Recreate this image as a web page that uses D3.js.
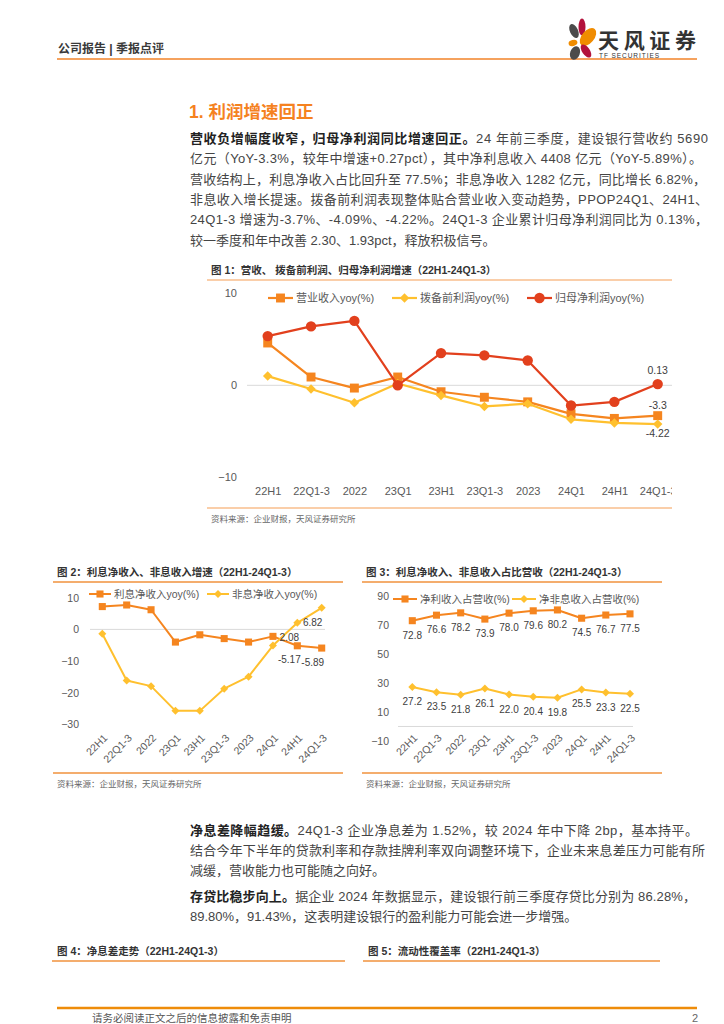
<!DOCTYPE html>
<html>
<head>
<meta charset="utf-8">
<script src="https://cdn.jsdelivr.net/npm/d3@7"></script>
<style>
  body { margin: 0; background: #fff; }
  svg { display: block; }
  text { font-family: "Liberation Sans", "Noto Sans CJK SC", sans-serif; }
</style>
</head>
<body>
<svg id="page" width="724" height="1024"></svg>
<script>
// ---- data ----
const periods = ["22H1", "22Q1-3", "2022", "23Q1", "23H1", "23Q1-3", "2023", "24Q1", "24H1", "24Q1-3"];

// fig 1: growth rates (%)
const revenueYoy   = [4.6, 0.9, -0.3, 0.9, -0.7, -1.3, -1.8, -3.1, -3.6, -3.3];
const ppopYoy      = [1.0, -0.4, -1.9, 0.2, -1.1, -2.3, -2.0, -3.7, -4.09, -4.22];
const netProfitYoy = [5.35, 6.4, 7.0, 0.0, 3.5, 3.25, 2.7, -2.2, -1.8, 0.13];
const ticks1 = [-10, 0, 10];

// fig 2: interest / non-interest income growth (%)
const netInterestYoy = [7.2, 7.7, 6.2, -4.0, -1.7, -2.9, -4.0, -2.2, -5.17, -5.89];
const nonInterestYoy = [-1.4, -16.1, -17.9, -25.7, -25.7, -18.7, -14.9, -5.1, 2.08, 6.82];
const ticks2 = [-30, -20, -10, 0, 10];

// fig 3: share of revenue (%)
const interestShare    = [72.8, 76.6, 78.2, 73.9, 78.0, 79.6, 80.2, 74.5, 76.7, 77.5];
const nonInterestShare = [27.2, 23.5, 21.8, 26.1, 22.0, 20.4, 19.8, 25.5, 23.3, 22.5];
const ticks3 = [-10, 10, 30, 50, 70, 90];

const ORANGE = "#F5851F", YELLOW = "#FFC02E", RED = "#E2401D";
const svg = d3.select("#page");

// ---- page furniture ----
svg.append("text").attr("x", 58).attr("y", 53).attr("font-size", 12).attr("font-weight", 700)
  .attr("fill", "#3a3a3a").text("公司报告 | 季报点评");
svg.append("line").attr("x1", 57).attr("x2", 697).attr("y1", 59).attr("y2", 59)
  .attr("stroke", "#F5A25E").attr("stroke-width", 2);

// logo petals
const petals = [
  [574, 31, 4, 7.5, -25, "#4b4b4b"],
  [582, 27, 3.5, 8.5, 0, "#B3123C"],
  [588, 37, 6.2, 10.5, 40, "#F08C00"],
  [573, 43, 4.5, 3, -15, "#F08C00"],
  [586, 51, 3.8, 7.5, -35, "#B3123C"],
  [575, 53, 4.8, 7, 20, "#4b4b4b"]
];
svg.append("g").selectAll("ellipse").data(petals).enter().append("ellipse")
  .attr("transform", d => `translate(${d[0]},${d[1]}) rotate(${d[4]})`)
  .attr("rx", d => d[2]).attr("ry", d => d[3]).attr("fill", d => d[5]);
svg.append("text").attr("x", 598).attr("y", 48).attr("font-size", 21).attr("font-weight", 700)
  .attr("textLength", 98).attr("lengthAdjust", "spacing")
  .attr("fill", "#333").text("天风证券");
svg.append("text").attr("x", 599).attr("y", 57.5).attr("font-size", 6.5)
  .attr("textLength", 60).attr("lengthAdjust", "spacing")
  .attr("fill", "#333").text("TF SECURITIES");

svg.append("text").attr("x", 189).attr("y", 118).attr("font-size", 17.5).attr("font-weight", 700)
  .attr("fill", "#F5821F").text("1. 利润增速回正");

function para(lines, x, y0, lh) {
  lines.forEach((ln, i) => {
    const t = svg.append("text").attr("x", x).attr("y", y0 + i * lh).attr("font-size", 13).attr("fill", "#454545");
    if (ln[2]) t.attr("textLength", ln[2]).attr("lengthAdjust", "spacing");
    if (ln[0]) t.append("tspan").attr("font-weight", 700).attr("fill", "#222").text(ln[0]);
    t.append("tspan").text(ln[1]);
  });
}

para([
  ["营收负增幅度收窄，归母净利润同比增速回正。", "24 年前三季度，建设银行营收约 5690", 518],
  ["", "亿元（YoY-3.3%，较年中增速+0.27pct），其中净利息收入 4408 亿元（YoY-5.89%）。", 512],
  ["", "营收结构上，利息净收入占比回升至 77.5%；非息净收入 1282 亿元，同比增长 6.82%，", 516],
  ["", "非息收入增长提速。拨备前利润表现整体贴合营业收入变动趋势，PPOP24Q1、24H1、", 518],
  ["", "24Q1-3 增速为-3.7%、-4.09%、-4.22%。24Q1-3 企业累计归母净利润同比为 0.13%，", 518],
  ["", "较一季度和年中改善 2.30、1.93pct，释放积极信号。", 0]
], 190, 143, 20.3);

para([
  ["净息差降幅趋缓。", "24Q1-3 企业净息差为 1.52%，较 2024 年中下降 2bp，基本持平。", 508],
  ["", "结合今年下半年的贷款利率和存款挂牌利率双向调整环境下，企业未来息差压力可能有所", 515],
  ["", "减缓，营收能力也可能随之向好。", 0]
], 190, 835, 20.2);
para([
  ["存贷比稳步向上。", "据企业 2024 年数据显示，建设银行前三季度存贷比分别为 86.28%，", 506],
  ["", "89.80%，91.43%，这表明建设银行的盈利能力可能会进一步增强。", 0]
], 190, 901, 20.2);

// ---- chart helper ----
let clipId = 0;
function drawChart(o) {
  const g = svg.append("g");
  const x = d3.scalePoint().domain(periods).range(o.xRange);
  const y = d3.scaleLinear().domain(o.yDomain).range(o.yRange);

  const id = "clip" + (clipId++);
  svg.append("clipPath").attr("id", id).append("rect")
    .attr("x", o.left).attr("y", o.topLine).attr("width", o.right - o.left).attr("height", o.bottomLine - o.topLine);
  const plot = g.append("g").attr("clip-path", `url(#${id})`);

  g.append("text").attr("x", o.left + 4).attr("y", o.titleY).attr("font-size", 10.5)
    .attr("font-weight", 700).attr("fill", "#333").text(o.title);
  [o.topLine, o.bottomLine].forEach(yy => {
    g.append("line").attr("x1", o.left).attr("x2", o.right).attr("y1", yy).attr("y2", yy)
      .attr("stroke", o.ruleColor).attr("stroke-width", 1.5);
  });
  g.append("text").attr("x", o.left + 4).attr("y", o.bottomLine + 14).attr("font-size", 8.5)
    .attr("fill", "#666").text("资料来源：企业财报，天风证券研究所");

  const ya = plot.append("g").attr("transform", `translate(${o.axisX},0)`)
    .call(d3.axisLeft(y).tickValues(o.ticks).tickSize(0).tickPadding(o.tickPad));
  ya.select(".domain").remove();
  ya.selectAll("text").attr("font-size", o.tickFont).attr("fill", "#595959");

  plot.append("line").attr("x1", o.axisX).attr("x2", o.gridEnd).attr("y1", y(0)).attr("y2", y(0))
    .attr("stroke", "#D9D9D9").attr("stroke-width", 1);

  const xa = plot.append("g").attr("transform", `translate(0,${o.xAxisY})`)
    .call(d3.axisBottom(x).tickSize(0).tickPadding(0));
  xa.select(".domain").remove();
  xa.selectAll("text").attr("font-size", o.xFont).attr("fill", "#595959");
  if (o.rotate) {
    xa.selectAll("text").attr("transform", "rotate(-45)").attr("text-anchor", "end")
      .attr("x", 2).attr("y", 2).attr("dy", "0.35em");
  } else {
    xa.selectAll("text").attr("dy", "0.35em");
  }

  const sym = (shape, size) => d3.symbol().type(shape === "circle" ? d3.symbolCircle : d3.symbolSquare).size(size)();
  const rot = shape => shape === "diamond" ? " rotate(45)" : "";

  o.series.forEach(s => {
    const line = d3.line().x((d, i) => x(periods[i])).y(d => y(d));
    plot.append("path").datum(s.values).attr("d", line).attr("fill", "none")
      .attr("stroke", s.color).attr("stroke-width", o.lineWidth).attr("stroke-linejoin", "round");
    plot.append("g").selectAll("path").data(s.values).enter().append("path")
      .attr("transform", (d, i) => `translate(${x(periods[i])},${y(d)})${rot(s.shape)}`)
      .attr("d", sym(s.shape, s.size)).attr("fill", s.color);

    // legend entry
    const L = s.legend;
    plot.append("line").attr("x1", L.x).attr("x2", L.x + L.w).attr("y1", o.legendY).attr("y2", o.legendY)
      .attr("stroke", s.color).attr("stroke-width", o.lineWidth);
    plot.append("path").attr("transform", `translate(${L.x + L.w / 2},${o.legendY})${rot(s.shape)}`)
      .attr("d", sym(s.shape, s.size)).attr("fill", s.color);
    plot.append("text").attr("x", L.x + L.w + 3).attr("y", o.legendY + 4).attr("font-size", o.legendFont)
      .attr("fill", "#595959").text(s.name);
  });

  o.labels.forEach(lb => {
    const s = o.series[lb.s];
    const list = lb.i === undefined ? s.values.map((v, i) => i) : [lb.i];
    list.forEach(i => {
      const v = s.values[i];
      plot.append("text").attr("x", x(periods[i]) + (lb.dx || 0)).attr("y", y(v) + lb.dy)
        .attr("text-anchor", "middle").attr("font-size", o.labelFont).attr("fill", "#404040")
        .text(lb.fmt ? lb.fmt(v) : String(v));
    });
  });
}

// fig 1
drawChart({
  title: "图 1：营收、 拨备前利润、归母净利润增速（22H1-24Q1-3）",
  left: 207, right: 672, titleY: 274, topLine: 280, bottomLine: 508,
  ruleColor: "#F9BE8C",
  xRange: [267.7, 657.7], yDomain: [-10, 10], yRange: [477.3, 293.3], ticks: ticks1,
  axisX: 247, tickPad: 10, tickFont: 11, gridEnd: 672,
  xAxisY: 491, xFont: 11, rotate: false,
  lineWidth: 2.2, legendY: 298, legendFont: 11, labelFont: 10.5,
  series: [
    { name: "营业收入yoy(%)", values: revenueYoy, color: ORANGE, shape: "square", size: 80, legend: { x: 268, w: 25 } },
    { name: "拨备前利润yoy(%)", values: ppopYoy, color: YELLOW, shape: "diamond", size: 45, legend: { x: 392, w: 25 } },
    { name: "归母净利润yoy(%)", values: netProfitYoy, color: RED, shape: "circle", size: 85, legend: { x: 527, w: 25 } }
  ],
  labels: [
    { s: 2, i: 9, dy: -10 },
    { s: 0, i: 9, dy: -7 },
    { s: 1, i: 9, dy: 13 }
  ]
});

// fig 2
drawChart({
  title: "图 2：利息净收入、非息收入增速（22H1-24Q1-3）",
  left: 53, right: 343, titleY: 576, topLine: 582, bottomLine: 773,
  ruleColor: "#F0923C",
  xRange: [102.3, 321.7], yDomain: [-30, 10], yRange: [724.5, 597.7], ticks: ticks2,
  axisX: 90, tickPad: 11, tickFont: 10.5, gridEnd: 325,
  xAxisY: 736, xFont: 10.5, rotate: true,
  lineWidth: 2, legendY: 594, legendFont: 10.5, labelFont: 10,
  series: [
    { name: "利息净收入yoy(%)", values: netInterestYoy, color: ORANGE, shape: "square", size: 50, legend: { x: 89, w: 22 } },
    { name: "非息净收入yoy(%)", values: nonInterestYoy, color: YELLOW, shape: "diamond", size: 32, legend: { x: 207, w: 22 } }
  ],
  labels: [
    { s: 1, i: 9, dx: -9, dy: 18 },
    { s: 1, i: 8, dx: -8, dy: 18.5 },
    { s: 0, i: 8, dx: -8, dy: 17.5 },
    { s: 0, i: 9, dx: -9, dy: 18 }
  ]
});

// fig 3
drawChart({
  title: "图 3：利息净收入、非息收入占比营收（22H1-24Q1-3）",
  left: 362, right: 662, titleY: 576, topLine: 582, bottomLine: 773,
  ruleColor: "#F0923C",
  xRange: [412.3, 630], yDomain: [-10, 90], yRange: [741, 595.7], ticks: ticks3,
  axisX: 398, tickPad: 9, tickFont: 10.5, gridEnd: 633,
  xAxisY: 736, xFont: 10.5, rotate: true,
  lineWidth: 2, legendY: 599, legendFont: 10.5, labelFont: 10,
  series: [
    { name: "净利收入占营收(%)", values: interestShare, color: ORANGE, shape: "square", size: 50, legend: { x: 393, w: 24 } },
    { name: "净非息收入占营收(%)", values: nonInterestShare, color: YELLOW, shape: "diamond", size: 32, legend: { x: 512, w: 24 } }
  ],
  labels: [
    { s: 0, dy: 18, fmt: v => v.toFixed(1) },
    { s: 1, dy: 18, fmt: v => v.toFixed(1) }
  ]
});

// fig 4 / fig 5 headers
[[57, 52, 345, "图 4：净息差走势（22H1-24Q1-3）"], [368, 363, 660, "图 5：流动性覆盖率（22H1-24Q1-3）"]].forEach(f => {
  svg.append("text").attr("x", f[0]).attr("y", 955).attr("font-size", 10.5).attr("font-weight", 700)
    .attr("fill", "#333").text(f[3]);
  svg.append("line").attr("x1", f[1]).attr("x2", f[2]).attr("y1", 961).attr("y2", 961)
    .attr("stroke", "#F0923C").attr("stroke-width", 1.5);
});

// footer
svg.append("line").attr("x1", 57).attr("x2", 697).attr("y1", 1008).attr("y2", 1008)
  .attr("stroke", "#EE8C0A").attr("stroke-width", 2.5);
svg.append("text").attr("x", 92).attr("y", 1022).attr("font-size", 10.5).attr("fill", "#555")
  .text("请务必阅读正文之后的信息披露和免责申明");
svg.append("text").attr("x", 692).attr("y", 1022).attr("font-size", 11).attr("fill", "#666").text("2");
</script>
</body>
</html>
